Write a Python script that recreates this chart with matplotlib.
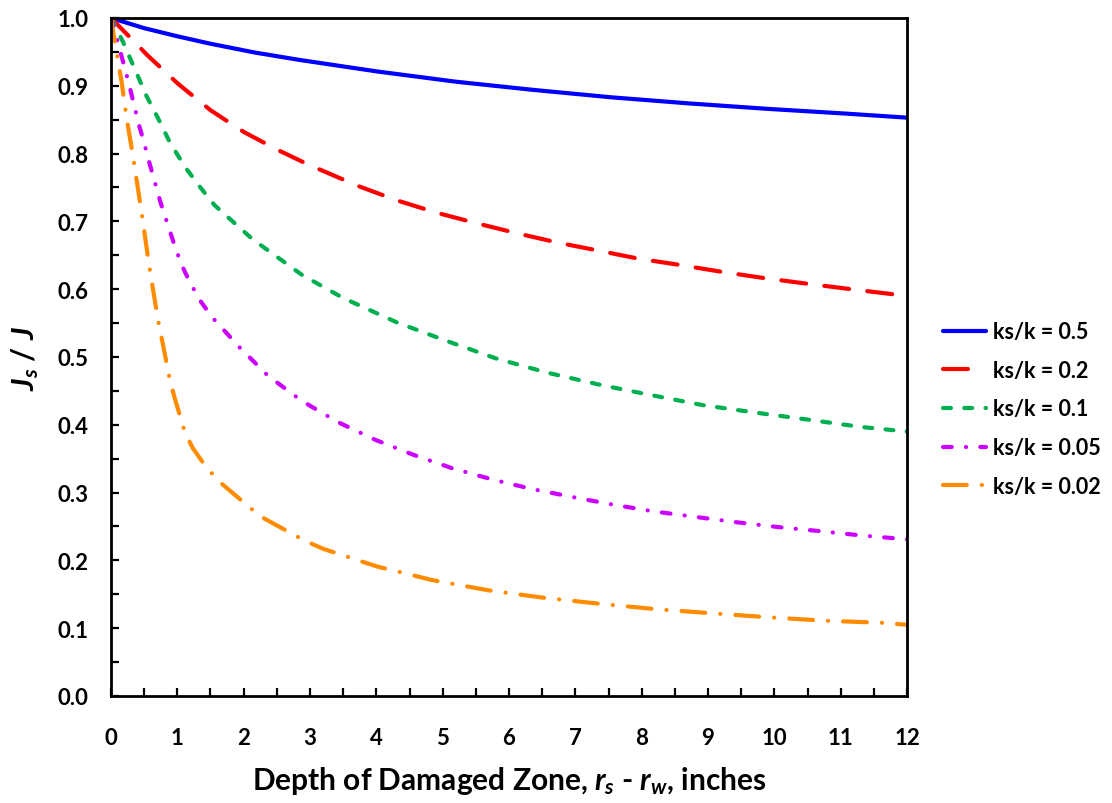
import matplotlib
matplotlib.use("Agg")
import matplotlib.pyplot as plt
from matplotlib.ticker import MultipleLocator

# values (x = depth of damaged zone, inches)
x_05 = [0, 0.5, 1.0, 1.5, 2.17, 2.85, 4.02, 5.2, 6.36, 7.54, 8.71, 9.89, 11.07, 12]
y_05 = [1.0, 0.985, 0.973, 0.962, 0.949, 0.938, 0.921, 0.906, 0.894, 0.883, 0.874, 0.866, 0.859, 0.853]

x_02 = [0, 0.26, 0.56, 1.01, 1.5, 2.0, 2.5, 2.97, 3.73, 4.31, 4.9, 5.52, 6.14, 6.72, 7.34,
        7.95, 8.56, 9.18, 9.8, 10.42, 11.07, 12]
y_02 = [1.0, 0.974, 0.944, 0.903, 0.864, 0.832, 0.806, 0.784, 0.752, 0.731, 0.713, 0.697,
        0.682, 0.669, 0.657, 0.645, 0.636, 0.626, 0.617, 0.609, 0.601, 0.590]

x_01 = [0, 0.18, 0.38, 0.53, 0.71, 0.88, 1.11, 1.34, 1.56, 2.13, 2.88, 3.5, 4.31, 5.05,
        5.8, 6.57, 7.37, 8.13, 8.92, 9.71, 10.48, 11.29, 12]
y_01 = [1.0, 0.965, 0.920, 0.886, 0.852, 0.818, 0.781, 0.751, 0.724, 0.674, 0.621, 0.587,
        0.551, 0.524, 0.498, 0.477, 0.459, 0.444, 0.429, 0.418, 0.408, 0.397, 0.390]

x_005 = [0, 0.11, 0.27, 0.42, 0.51, 0.58, 0.75, 0.86, 0.95, 1.06, 1.19, 1.36, 1.53, 1.94,
         2.37, 2.88, 3.42, 3.98, 4.55, 5.14, 5.76, 6.36, 6.98, 7.58, 8.2, 8.82, 9.45,
         10.07, 10.7, 11.29, 12]
y_005 = [1.0, 0.962, 0.903, 0.843, 0.812, 0.786, 0.727, 0.694, 0.667, 0.637, 0.610, 0.581,
         0.558, 0.514, 0.472, 0.435, 0.404, 0.378, 0.356, 0.336, 0.319, 0.305, 0.293,
         0.282, 0.272, 0.264, 0.256, 0.249, 0.243, 0.237, 0.231]

x_002 = [0, 0.1, 0.16, 0.23, 0.33, 0.46, 0.58, 0.71, 0.77, 0.88, 0.95, 1.11, 1.23, 1.41,
         1.61, 2.25, 2.92, 3.2, 4.01, 4.84, 5.68, 6.51, 7.37, 8.22, 9.06, 9.92, 10.76,
         11.62, 12]
y_002 = [1.0, 0.940, 0.906, 0.856, 0.797, 0.714, 0.632, 0.554, 0.525, 0.470, 0.443, 0.390,
         0.366, 0.341, 0.318, 0.265, 0.229, 0.217, 0.191, 0.171, 0.156, 0.145, 0.136,
         0.128, 0.122, 0.116, 0.111, 0.108, 0.105]

labels = ["ks/k = 0.5", "ks/k = 0.2", "ks/k = 0.1", "ks/k = 0.05", "ks/k = 0.02"]
colors = ["#0000FF", "#FF0000", "#00B050", "#CC00FF", "#FF8C00"]

plt.rcParams["font.family"] = ["Lato", "DejaVu Sans"]
plt.rcParams["font.weight"] = "bold"
plt.rcParams["mathtext.fontset"] = "custom"
plt.rcParams["mathtext.rm"] = "Lato:bold"
plt.rcParams["mathtext.it"] = "Lato:italic:bold"
plt.rcParams["mathtext.bf"] = "Lato:bold"

fig = plt.figure(figsize=(11.12, 8.04), dpi=100)
ax = fig.add_axes([0.0998, 0.1331, 0.8157 - 0.0998, 0.9764 - 0.1331])

series = [(x_05, y_05), (x_02, y_02), (x_01, y_01), (x_005, y_005), (x_002, y_002)]
dash_styles = [
    None,
    (6.0, 4.4),
    (1.9, 3.2),
    (2.1, 3.4, 0.05, 3.4),
    (5.7, 3.6, 0.05, 3.6),
]
for (xs, ys), lab, col, ds in zip(series, labels, colors, dash_styles):
    line, = ax.plot(xs, ys, color=col, lw=3, label=lab, solid_capstyle="round")
    if ds is not None:
        line.set_dashes(ds)
        line.set_dash_capstyle("round")

ax.set_xlim(0, 12)
ax.set_ylim(0, 1.0)
ax.xaxis.set_major_locator(MultipleLocator(1))
ax.xaxis.set_minor_locator(MultipleLocator(0.5))
ax.yaxis.set_major_locator(MultipleLocator(0.1))
ax.yaxis.set_minor_locator(MultipleLocator(0.05))
ax.yaxis.set_major_formatter(lambda v, p: f"{v:.1f}")

ax.tick_params(which="both", direction="in", length=6, width=1.6, labelsize=16)
ax.tick_params(axis="x", which="both", pad=22)
ax.tick_params(axis="y", which="both", pad=16)
for sp in ax.spines.values():
    sp.set_linewidth(2)

ax.set_xlabel(r"Depth of Damaged Zone, $r_s$ - $r_w$, inches", fontsize=21.5,
              fontweight="bold", labelpad=12)
ax.set_ylabel(r"$J_s$ / $J$", fontsize=22, fontweight="bold", labelpad=12)

fig.legend(loc="center left", bbox_to_anchor=(943 / 1112, 1 - 410 / 804),
           frameon=False, fontsize=15.5, handlelength=2.0, handletextpad=0.3,
           labelspacing=0.82, borderpad=0, borderaxespad=0)

fig.savefig("out.png", dpi=100)
